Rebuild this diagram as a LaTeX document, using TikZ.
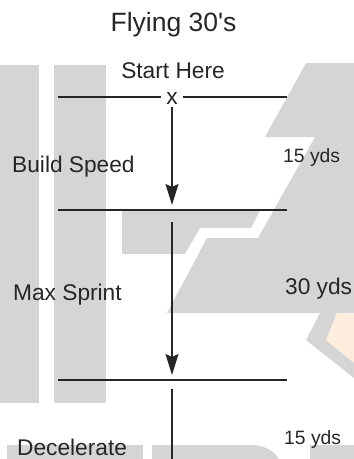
\documentclass[tikz,border=0pt]{standalone}
\usepackage{fontspec}
\setmainfont{Liberation Sans}[Ligatures=TeXOff]
\usetikzlibrary{arrows.meta}
\definecolor{wm}{HTML}{D5D5D5}
\definecolor{wmo}{HTML}{FDEDDF}
\definecolor{ink}{HTML}{262626}
\begin{document}
\begin{tikzpicture}[x=1pt,y=-1pt,
  wmark/.style={fill=wm,draw=none},
  wmorange/.style={fill=wmo,draw=none},
  rule/.style={draw=ink,line width=1.3pt},
  arr/.style={rule,-{Stealth[length=21pt,width=13pt,inset=3pt]}},
  lbl/.style={anchor=base west,inner sep=0pt,text=ink,font=\fontsize{22.7}{26}\selectfont},
  ydslbl/.style={lbl,font=\fontsize{19.3}{22}\selectfont},
  ctrlbl/.style={lbl,anchor=base}]
\useasboundingbox (0,0) rectangle (354,459);
% background watermark shapes
\fill[wmark] (0,65) rectangle (39,403);
\fill[wmark] (54,65) rectangle (106,403);
\fill[wmark] (306,63) -- (354,63) -- (354,313) -- (167,313) -- (207,238)
  -- (258,238) -- (315,137) -- (265,137) -- cycle;
\fill[wmark] (122,211) -- (260,211) -- (251,228) -- (200,228) -- (185,254) -- (122,254) -- cycle;
\fill[wmark] (320,313) -- (306,340) -- (354,378) -- (354,313) -- cycle;
\fill[wmorange] (337,313) -- (326,340) -- (354,363) -- (354,313) -- cycle;
\fill[wmark] (7,445) rectangle (143,459);
\fill[wmark] (152,459) -- (152,445) -- (250,445) .. controls (265,445) and (274,451) .. (279,459) -- cycle;
\fill[wmark] (310,445) rectangle (354,459);
% texts
\node[ctrlbl,font=\fontsize{26.5}{30}\selectfont] (title) at (173.5,31) {Flying 30's};
\node[ctrlbl] (start) at (173,78) {Start Here};
\node[ctrlbl,inner xsep=5pt] (x) at (172,104.5) {x};
\node[lbl] (build) at (12,172) {Build Speed};
\node[ydslbl] (d1) at (283,162) {15 yds};
\node[lbl] (max) at (13,300) {Max Sprint};
\node[lbl] (d2) at (285,294) {30 yds};
\node[lbl] (dec) at (17,455) {Decelerate};
\node[ydslbl] (d3) at (284,444) {15 yds};
% line end points
\coordinate (l1a) at (58,97);
\coordinate (l1b) at (287,97);
\coordinate (l2a) at (58,210);
\coordinate (l2b) at (287,210);
\coordinate (l3a) at (58,380);
\coordinate (l3b) at (287,380);
\coordinate (a1s) at (172,107);
\coordinate (a1e) at (172,205);
\coordinate (a2s) at (172,222);
\coordinate (a2e) at (172,375);
\coordinate (a3s) at (172,389);
\coordinate (a3e) at (172,459);
% rules
\draw[rule] (l1a) -- (l1a -| x.west);
\draw[rule] (l1b -| x.east) -- (l1b);
\draw[rule] (l2a) -- (l2b);
\draw[rule] (l3a) -- (l3b);
% arrows
\draw[arr] (a1s) -- (a1e);
\draw[arr] (a2s) -- (a2e);
\draw[rule] (a3s) -- (a3e);
\end{tikzpicture}
\end{document}
